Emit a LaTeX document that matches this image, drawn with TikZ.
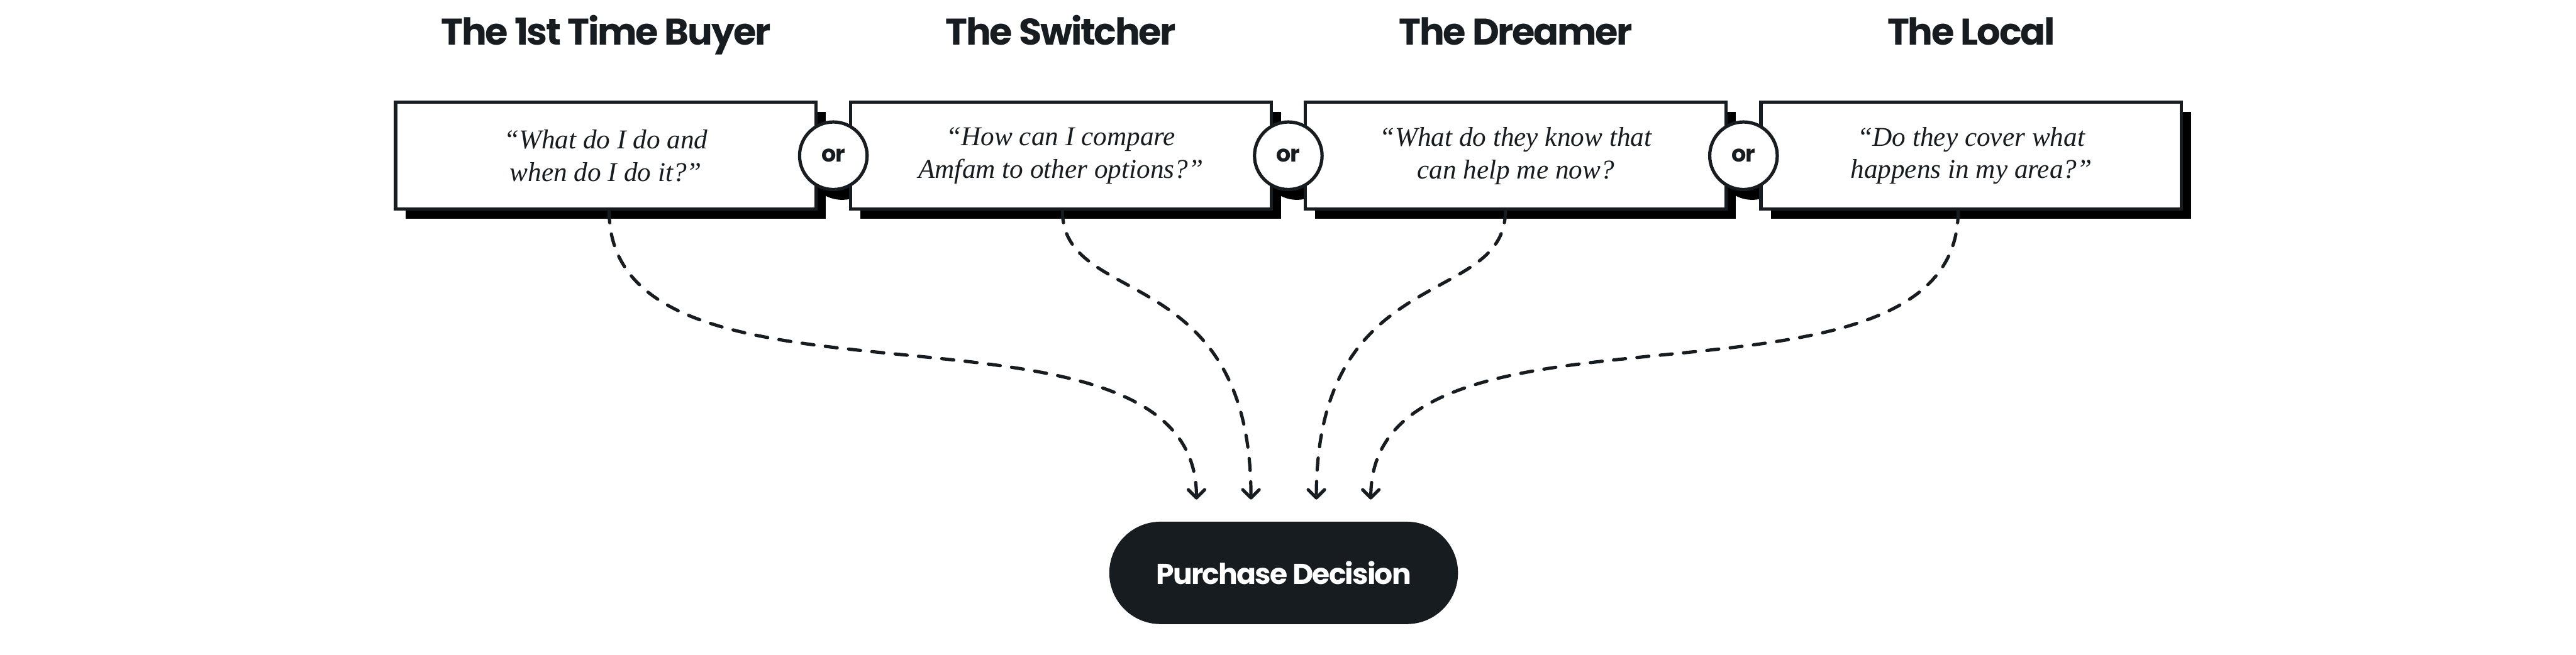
\documentclass[tikz,border=0pt]{standalone}
\usepackage{fontspec}
\usepackage{tikz}
\usetikzlibrary{arrows.meta, positioning, calc, backgrounds, shadows}
\newfontfamily\headfont{Poppins}[LetterSpace=-4]
\newfontfamily\quotefont{Liberation Serif}
\definecolor{inkcolor}{RGB}{23,28,33}

\begin{document}
\begin{tikzpicture}[
    persona/.style={font=\headfont\bfseries\fontsize{19.4}{24}\selectfont, text=inkcolor, anchor=base},
    question/.style={draw=inkcolor, line width=0.6mm, fill=white, minimum width=7.72cm, minimum height=1.96cm, inner sep=0pt, align=center, font=\quotefont\itshape\fontsize{14.2}{17}\selectfont, text=inkcolor, drop shadow={shadow xshift=1.8mm, shadow yshift=-1.8mm, fill=black, opacity=1}},
    choice/.style={circle, draw=inkcolor, line width=0.6mm, fill=white, minimum size=1.24cm, inner sep=0pt, font=\headfont\bfseries\fontsize{12}{14}\selectfont, text=inkcolor},
    decision/.style={fill=inkcolor, rounded corners=0.94cm, minimum width=6.4cm, minimum height=1.88cm, font=\headfont\bfseries\fontsize{15}{18}\selectfont, text=white},
    flow/.style={draw=inkcolor, line width=0.6mm, line cap=round, dash pattern=on 2.2mm off 2.1mm, -{Straight Barb[length=1.5mm, width=3mm, round]}}
]
    \useasboundingbox (0,0) rectangle (47.28,-12.02);

    % question boxes
    \node[question] (b1) at (11.12,-2.86) {“What do I do and\\when do I do it?”};
    \node[question] (b2) at (19.47,-2.86) {“How can I compare\\Amfam to other options?”};
    \node[question] (b3) at (27.82,-2.86) {“What do they know that\\can help me now?};
    \node[question] (b4) at (36.18,-2.86) {“Do they cover what\\happens in my area?”};

    % personas
    \node[persona] (t1) at ($(b1.north)+(0,1.03)$) {The 1st Time Buyer};
    \node[persona] (t2) at ($(b2.north)+(0,1.03)$) {The Switcher};
    \node[persona] (t3) at ($(b3.north)+(0,1.03)$) {The Dreamer};
    \node[persona] (t4) at ($(b4.north)+(0,1.03)$) {The Local};

    % or circles
    \node[choice] (or1) at ($(b1.east)!0.5!(b2.west)$) {or};
    \node[choice] (or2) at ($(b2.east)!0.5!(b3.west)$) {or};
    \node[choice] (or3) at ($(b3.east)!0.5!(b4.west)$) {or};
    \begin{scope}[on background layer]
        \foreach \n in {or1,or2,or3}
            \fill[black] ($(\n.center)+(0.16,-0.16)$) circle (0.65);
    \end{scope}

    % decision
    \node[decision] (pd) at (23.56,-10.52) {Purchase Decision};
    \coordinate (in1) at ($(pd.north)+(-1.6,0.4)$);
    \coordinate (in2) at ($(pd.north)+(-0.6,0.4)$);
    \coordinate (in3) at ($(pd.north)+(0.6,0.4)$);
    \coordinate (in4) at ($(pd.north)+(1.6,0.4)$);

    \draw[flow] ($(b1.south)+(0.06,0)$) .. controls +(0,-4.2) and +(0,4.2) .. (in1);
    \draw[flow] ($(b2.south)+(0.03,0)$) .. controls +(0,-1.8) and +(0,4.4) .. (in2);
    \draw[flow] ($(b3.south)+(-0.19,0)$) .. controls +(0,-1.8) and +(0,4.4) .. (in3);
    \draw[flow] ($(b4.south)+(-0.24,0)$) .. controls +(0,-4.2) and +(0,4.2) .. (in4);
\end{tikzpicture}
\end{document}
